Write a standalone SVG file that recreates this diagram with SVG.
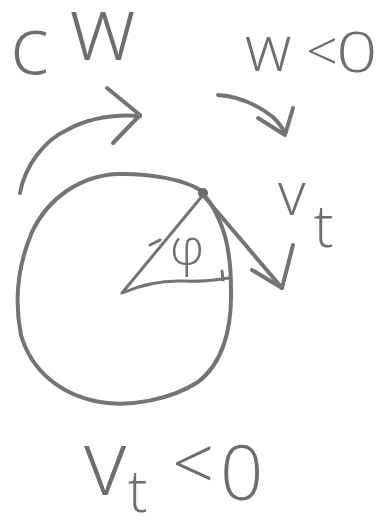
<svg xmlns="http://www.w3.org/2000/svg" width="391" height="518" viewBox="0 0 391 518">
  <style>
    .pen { fill: none; stroke: #747474; stroke-width: 4; stroke-linecap: round; stroke-linejoin: round; }
    .thin { stroke-width: 3; }
    .hand { font-family: "Open Sans", "Lato", "Liberation Sans", sans-serif; font-weight: 300; fill: #6e6e6e; }
  </style>
  <rect width="391" height="518" fill="#ffffff"/>

  <g id="label-cw" class="hand">
    <text x="10" y="74" font-size="82">c</text>
    <text x="70" y="60" font-size="90">w</text>
  </g>

  <g id="label-w-lt-0" class="hand">
    <text x="245" y="71" font-size="64">w</text>
    <text x="306" y="71" font-size="56">&lt;</text>
    <text x="336" y="72" font-size="56" transform="translate(336,72) scale(1.3,1) translate(-336,-72)">0</text>
  </g>

  <g id="wheel">
    <path class="pen" d="M200,190 C185,180 150,173 117,174 C80,176 48,198 32,232 C18,265 14,300 21,335 C31,370 60,395 100,402 C130,407 170,400 198,382 C222,364 232,330 231,290 C231,262 228,240 220,222 C214,208 208,198 203,195"/>
    <circle cx="203" cy="193" r="5" fill="#6a6a6a"/>
    <path class="pen thin" d="M203,195 L122,293 C140,285 160,280 185,281 C205,282 220,279 230,278"/>
    <path class="pen thin" d="M222,271 L223,280"/>
    <path class="pen thin" d="M150,245 L160,240"/>
  </g>

  <g id="label-phi" class="hand">
    <text x="170" y="265" font-size="50">φ</text>
  </g>

  <g id="label-vt" class="hand">
    <text x="278" y="215" font-size="60">v</text>
    <text x="314" y="247" font-size="58">t</text>
  </g>

  <g id="label-vt-lt-0" class="hand">
    <text x="84" y="495" font-size="92">v</text>
    <text x="128" y="512" font-size="58">t</text>
    <text x="172" y="490" font-size="74">&lt;</text>
    <text x="220" y="500" font-size="76">0</text>
  </g>

  <g id="connectors" class="pen">
    <path d="M20,193 C25,165 45,140 67,130 C85,120 110,114 140,116"/>
    <path d="M107,88 L140,115 L113,143"/>
    <path d="M218,95 C235,96 255,103 273,117 C279,123 283,128 285,134"/>
    <path d="M258,118 L285,135 L293,108"/>
    <path d="M203,195 L282,288"/>
    <path d="M252,270 L282,288 L293,245"/>
  </g>
</svg>
